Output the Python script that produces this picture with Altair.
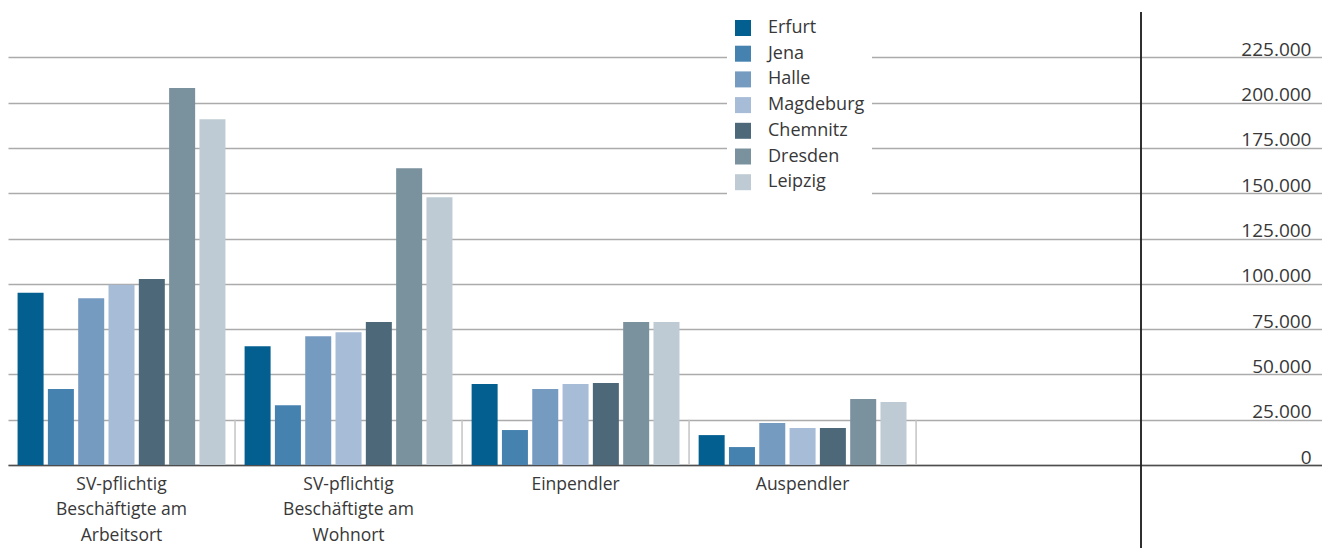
import altair as alt
import pandas as pd

categories = [
    "SV-pflichtig\nBeschäftigte am\nArbeitsort",
    "SV-pflichtig\nBeschäftigte am\nWohnort",
    "Einpendler",
    "Auspendler",
]
cities = ["Erfurt", "Jena", "Halle", "Magdeburg", "Chemnitz", "Dresden", "Leipzig"]
colors = ["#035f90", "#4682b0", "#769bc0", "#a7bcd7", "#4d6979", "#7a919e", "#becbd4"]

erfurt = [95000, 65500, 44700, 16500]
jena = [42000, 33000, 19300, 9900]
halle = [92000, 71000, 42000, 23200]
magdeburg = [99500, 73300, 44700, 20400]
chemnitz = [102600, 78900, 45200, 20400]
dresden = [208000, 163800, 78900, 36400]
leipzig = [190800, 147800, 78900, 34700]

y_ticks = [0, 25000, 50000, 75000, 100000, 125000, 150000, 175000, 200000, 225000]

series = [erfurt, jena, halle, magdeburg, chemnitz, dresden, leipzig]
rows = []
for city, vals in zip(cities, series):
    for cat, v in zip(categories, vals):
        rows.append({"cat": cat, "city": city, "value": v})
df = pd.DataFrame(rows)
sep_df = pd.DataFrame({"cat": categories})

FONT = "Open Sans"
TXT = "#383838"

xscale = alt.Scale(domain=categories, paddingInner=0, paddingOuter=0.894, align=0)

def xenc(**kw):
    return alt.X(
        "cat:N",
        scale=xscale,
        sort=categories,
        title=None,
        axis=alt.Axis(
            labelExpr="split(datum.label, '\\n')",
            labelAngle=0,
            labelFont=FONT,
            labelFontSize=17.5,
            labelColor=TXT,
            labelLineHeight=25.5,
            labelPadding=10,
            labelBaseline="top",
            ticks=False,
            domainColor="#4d4d4d",
            domainWidth=1.5,
            grid=False,
        ),
        **kw,
    )

bars = alt.Chart(df).mark_bar().encode(
    x=xenc(),
    xOffset=alt.XOffset(
        "city:N", sort=cities,
        scale=alt.Scale(domain=cities, paddingInner=0.142, paddingOuter=0.316),
    ),
    y=alt.Y(
        "value:Q",
        scale=alt.Scale(domain=[0, 250000], nice=False),
        title=None,
        axis=alt.Axis(
            orient="right",
            values=y_ticks,
            labelExpr="replace(format(datum.value, ','), ',', '.')",
            labelFont=FONT,
            labelFontSize=19,
            labelColor=TXT,
            labelAlign="right",
            labelBaseline="alphabetic",
            labelOffset=-2,
            labelPadding=-11,
            ticks=False,
            domain=False,
            grid=True,
            gridColor="#ababab",
            gridWidth=1.5,
        ),
    ),
    color=alt.Color(
        "city:N",
        sort=cities,
        scale=alt.Scale(domain=cities, range=colors),
        legend=alt.Legend(
            title=None,
            orient="none",
            legendX=719,
            legendY=0,
            symbolType="square",
            symbolSize=256,
            symbolStrokeWidth=0,
            labelFont=FONT,
            labelFontSize=18,
            labelColor=TXT,
            labelOffset=16,
            rowPadding=7.7,
            padding=7,
            fillColor="white",
        ),
    ),
)

seps = alt.Chart(sep_df).mark_rule(color="#c4c4c4", strokeWidth=1.5).encode(
    x=xenc(bandPosition=1),
    y=alt.datum(0),
    y2=alt.datum(25000),
)

vline = alt.Chart(sep_df).mark_rule(color="#222222", strokeWidth=1).encode(
    x=alt.value(1133),
    y=alt.value(0),
    y2=alt.value(536),
)

chart = alt.layer(seps, bars, vline).properties(
    width=1314,
    height=453,
    autosize=alt.AutoSizeParams(type="none"),
    padding={"top": 4, "left": 0, "right": 0, "bottom": 84},
).configure_view(stroke=None)

chart.save("out.html", embed_options={"renderer": "svg", "actions": False})
